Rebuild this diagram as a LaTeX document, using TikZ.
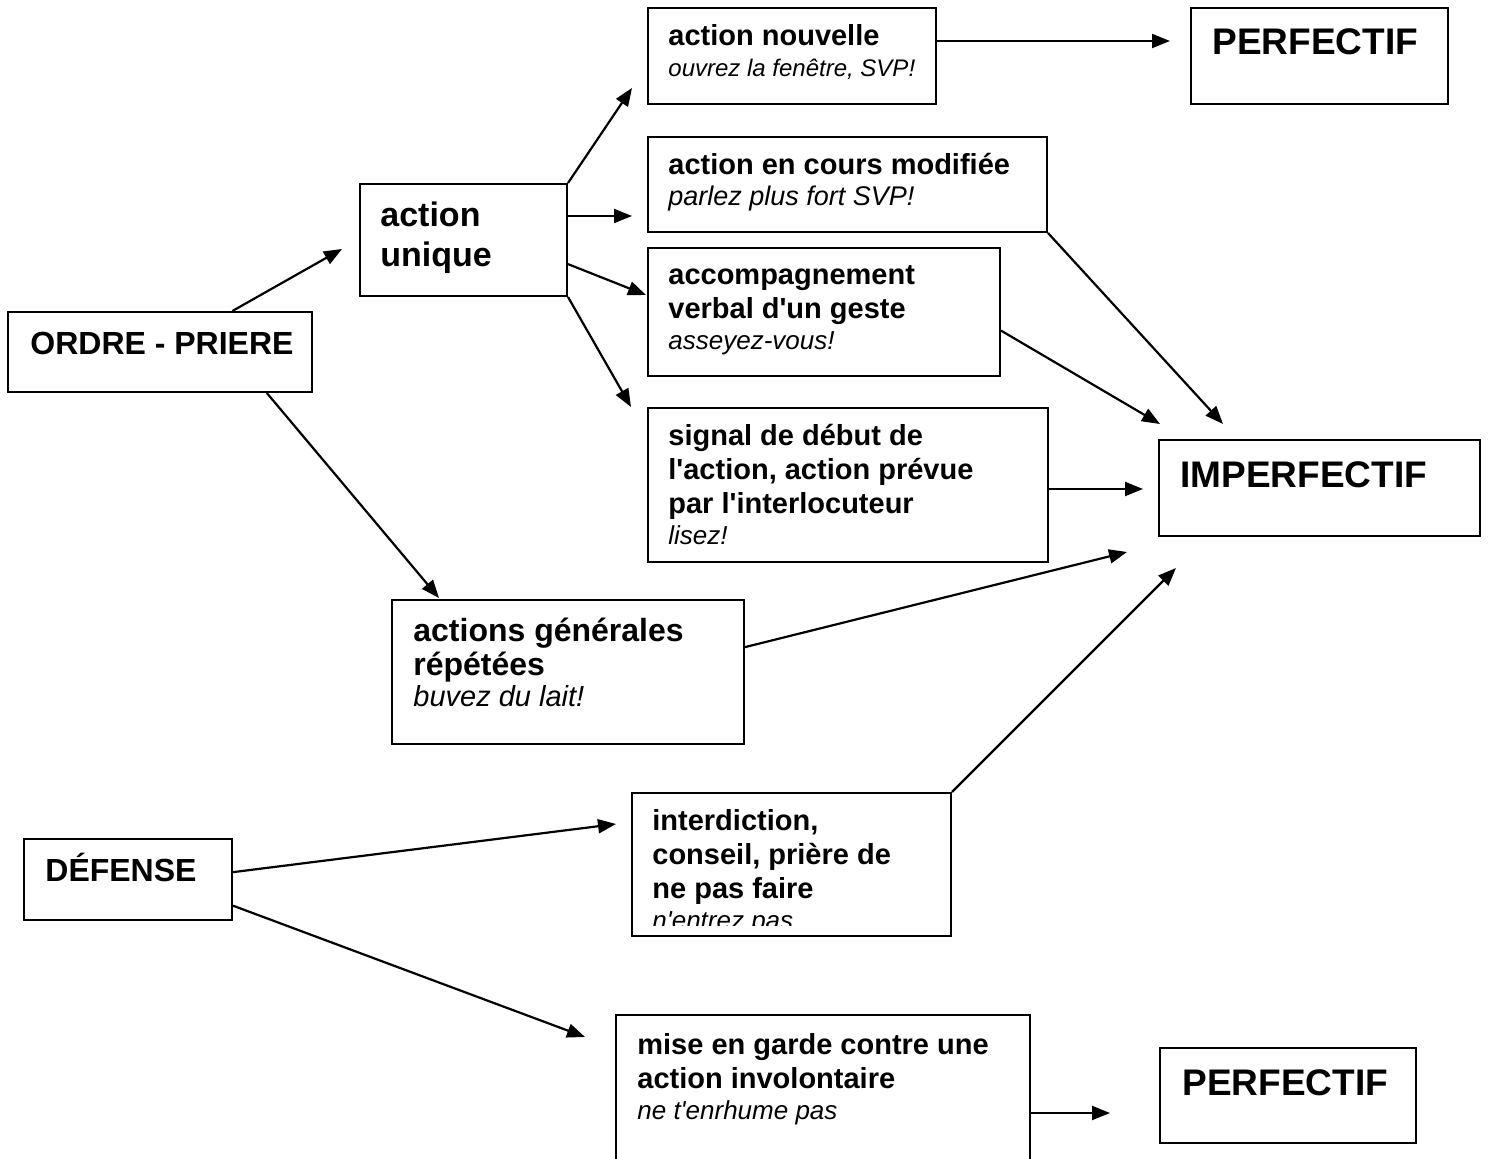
\documentclass[tikz,border=0pt]{standalone}
\usepackage{fontspec}
\setmainfont{Liberation Sans}[Ligatures=TeXOff]
\usetikzlibrary{arrows.meta,fit}
\tikzset{
  boite/.style={draw, line width=1pt, inner sep=0pt},
  fleche/.style={line width=1.1pt, -{Triangle[length=9pt,width=7pt]}},
  texte/.style={anchor=base west, inner sep=0pt, align=flush left, text width=220pt,
    font=\bfseries\fontsize{14.5}{17}\selectfont},
  titre/.style={anchor=base west, inner sep=0pt, font=\bfseries\fontsize{#1}{20}\selectfont},
}
\newcommand{\exemple}[2][13]{{\normalfont\itshape\fontsize{#1}{17}\selectfont #2}}
\begin{document}
\begin{tikzpicture}[x=0.5pt, y=-0.5pt]
  \useasboundingbox (0,0) rectangle (1490,1159);
  % cadres
  \node[boite, fit={(8,312) (312,392)}] (ordre) {};
  \node[boite, fit={(360,184) (567,296)}] (unique) {};
  \node[boite, fit={(648,8) (936,104)}] (nouv) {};
  \node[boite, fit={(1191,8) (1448,104)}] (pf1) {};
  \node[boite, fit={(648,137) (1047,232)}] (cours) {};
  \node[boite, fit={(648,248) (1000,376)}] (accomp) {};
  \node[boite, fit={(648,408) (1048,562)}] (signal) {};
  \node[boite, fit={(1159,440) (1480,536)}] (imperf) {};
  \node[boite, fit={(392,600) (744,744)}] (gen) {};
  \node[boite, fit={(24,839) (232,920)}] (defense) {};
  \node[boite, fit={(632,793) (951,936)}] (interd) {};
  \node[boite, fit={(616,1015) (1030,1180)}] (mise) {};
  \node[boite, fit={(1160,1048) (1416,1143)}] (pf2) {};
  % textes
  \node[titre=16] at (30,355) {ORDRE - PRIERE};
  \node[texte, font=\bfseries\fontsize{17}{20}\selectfont] at (380,227) {action\\unique};
  \node[texte] at (668,46) {action nouvelle\\[-1.5pt]\exemple[12]{ouvrez la fenêtre, SVP!}};
  \node[titre=18.5] at (1212,55) {PERFECTIF};
  \node[texte] at (668,175) {action en cours modifiée\\[-1.5pt]\exemple[13.5]{parlez plus fort SVP!}};
  \node[texte] at (668,285) {accompagnement\\verbal d'un geste\\[-1.5pt]\exemple{asseyez-vous!}};
  \node[texte] at (668,446) {signal de début de\\l'action, action prévue\\par l'interlocuteur\\[-1.5pt]\exemple{lisez!}};
  \node[titre=18.5] at (1180,488) {IMPERFECTIF};
  \node[texte, font=\bfseries\fontsize{16}{17}\selectfont] at (413,642) {actions générales\\répétées\\[-1.5pt]\exemple[14.5]{buvez du lait!}};
  \node[titre=16] at (45,882) {DÉFENSE};
  \begin{scope}
    \clip (632,793) rectangle (951,926);
    \node[texte] at (652,831) {interdiction,\\conseil, prière de\\ne pas faire\\[-1.5pt]\exemple{n'entrez pas}};
  \end{scope}
  \node[texte] at (637,1055) {mise en garde contre une\\action involontaire\\[-1.5pt]\exemple{ne t'enrhume pas}};
  \node[titre=18.5] at (1182,1096) {PERFECTIF};
  % pointes des fleches
  \coordinate (t1) at (342,249);
  \coordinate (t2) at (439,598);
  \coordinate (t3) at (632,88);
  \coordinate (t4) at (632,216);
  \coordinate (t5) at (646,295);
  \coordinate (t6) at (631,407);
  \coordinate (t7) at (1170,41);
  \coordinate (t8) at (1223,424);
  \coordinate (t9) at (1160,424);
  \coordinate (t10) at (1143,489);
  \coordinate (t11) at (1127,552);
  \coordinate (t12) at (1176,568);
  \coordinate (t13) at (616,824);
  \coordinate (t14) at (585,1037);
  \coordinate (t15) at (1110,1113);
  % fleches
  \draw[fleche] (ordre) -- (t1);
  \draw[fleche] (ordre.-21) -- (t2);
  \draw[fleche] (unique.north east) -- (t3);
  \draw[fleche] (t4 -| unique.east) -- (t4);
  \draw[fleche] (unique.-13) -- (t5);
  \draw[fleche] (unique.south east) -- (t6);
  \draw[fleche] (t7 -| nouv.east) -- (t7);
  \draw[fleche] (cours.south east) -- (t8);
  \draw[fleche] (accomp.-6) -- (t9);
  \draw[fleche] (t10 -| signal.east) -- (t10);
  \draw[fleche] (gen.8) -- (t11);
  \draw[fleche] (interd.north east) -- (t12);
  \draw[fleche] (defense.4) -- (t13);
  \draw[fleche] (defense.-14) -- (t14);
  \draw[fleche] (t15 -| mise.east) -- (t15);
\end{tikzpicture}
\end{document}
